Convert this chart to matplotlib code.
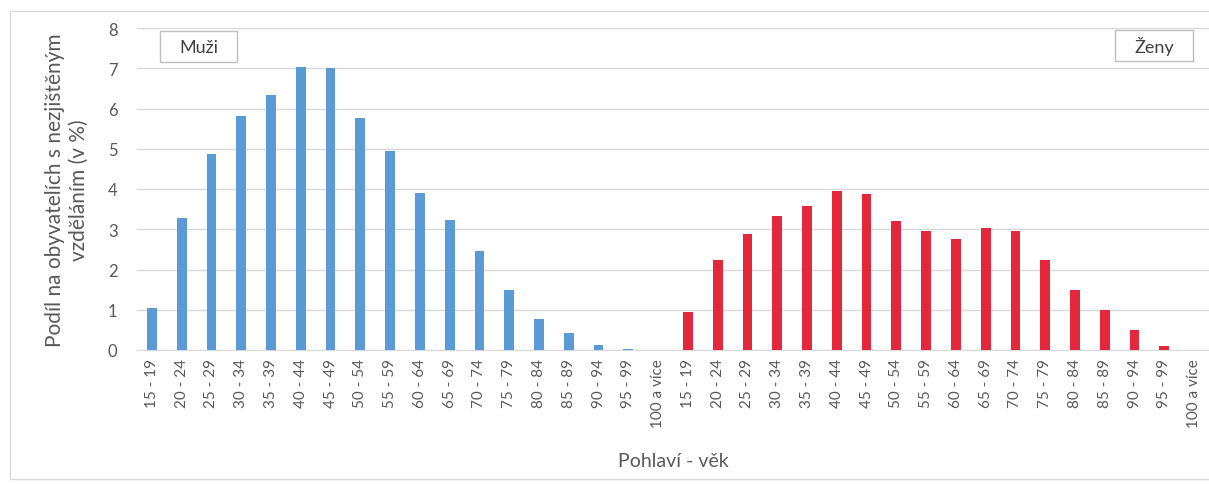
import numpy as np
import matplotlib.pyplot as plt
from matplotlib.patches import Rectangle

plt.rcParams['font.family'] = ['Lato', 'DejaVu Sans']

age_groups = ['15 - 19', '20 - 24', '25 - 29', '30 - 34', '35 - 39', '40 - 44',
              '45 - 49', '50 - 54', '55 - 59', '60 - 64', '65 - 69', '70 - 74',
              '75 - 79', '80 - 84', '85 - 89', '90 - 94', '95 - 99', '100 a více']
male = [1.04, 3.28, 4.86, 5.82, 6.33, 7.03, 7.0, 5.77, 4.94, 3.90, 3.22, 2.46,
        1.48, 0.77, 0.42, 0.13, 0.02, 0.0]
female = [0.95, 2.23, 2.89, 3.33, 3.57, 3.96, 3.88, 3.20, 2.95, 2.76, 3.02, 2.95,
          2.24, 1.50, 1.00, 0.49, 0.09, 0.0]

blue = '#5B9BD5'
red = '#E4283C'
text_col = '#595959'

fig = plt.figure(figsize=(12.09, 4.85), dpi=100)
# outer chart border
fig.patches.append(Rectangle((10 / 1209, 5 / 485), 1.0, 468 / 485,
                             transform=fig.transFigure, fill=False,
                             edgecolor='#D9D9D9', linewidth=1))

ax = fig.add_axes([137 / 1209, 134 / 485, 1072 / 1209, 322 / 485])

n = len(age_groups)
x_m = np.arange(n)
x_f = np.arange(n) + n
ax.bar(x_m, male, width=0.33, color=blue, zorder=3)
ax.bar(x_f, female, width=0.33, color=red, zorder=3)

ax.set_xlim(-0.5, 2 * n - 0.5)
ax.set_ylim(0, 8)
ax.set_yticks(range(0, 9))
ax.set_xticks(np.arange(2 * n))
ax.set_xticklabels(age_groups + age_groups, rotation=90, fontsize=11, color=text_col)
ax.tick_params(axis='y', labelsize=12, colors=text_col, length=0, pad=14)
ax.tick_params(axis='x', length=0, pad=6)
ax.grid(axis='y', color='#D9D9D9', linewidth=1, zorder=0)
for s in ['top', 'right', 'left']:
    ax.spines[s].set_visible(False)
ax.spines['bottom'].set_color('#D9D9D9')

ax.set_ylabel('Podíl na obyvatelích s nezjištěným\nvzděláním (v %)',
              fontsize=15, color=text_col, labelpad=14)
ax.set_xlabel('Pohlaví - věk', fontsize=14, color=text_col, labelpad=18)

# labelled boxes for the two halves
for (x0, y0, w, h), label in [((0.0215, 0.894, 0.072, 0.097), 'Muži'),
                              ((0.912, 0.897, 0.073, 0.097), 'Ženy')]:
    ax.add_patch(Rectangle((x0, y0), w, h, transform=ax.transAxes, facecolor='white',
                           edgecolor='#BFBFBF', linewidth=1, zorder=4, clip_on=False))
    ax.text(x0 + w / 2, y0 + h / 2, label, transform=ax.transAxes, fontsize=13,
            color='#404040', ha='center', va='center', zorder=5)

fig.savefig('out.png', dpi=100)
